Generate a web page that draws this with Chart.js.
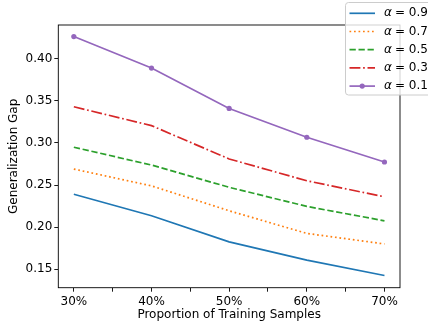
<!DOCTYPE html>
<html>
<head>
<meta charset="utf-8">
<script src="https://cdn.jsdelivr.net/npm/chart.js@4/dist/chart.umd.min.js"></script>
<style>
  html, body { margin: 0; padding: 0; background: #fff; }
</style>
</head>
<body>
<canvas id="gapChart" width="428" height="327"></canvas>
<script>
// proportion of training samples (%)
const proportions = [30, 40, 50, 60, 70];
const alphas = ['0.9', '0.7', '0.5', '0.3', '0.1'];

const gapAlpha09 = [0.239, 0.2135, 0.1825, 0.1607, 0.1425];
const gapAlpha07 = [0.269, 0.249, 0.2194, 0.1925, 0.180];
const gapAlpha05 = [0.2949, 0.2738, 0.2473, 0.2246, 0.2075];
const gapAlpha03 = [0.343, 0.3206, 0.281, 0.2551, 0.236];
const gapAlpha01 = [0.4265, 0.389, 0.341, 0.3068, 0.2774];

const xTicks = [30, 35, 40, 45, 50, 55, 60, 65, 70];
const yTicks = [0.15, 0.20, 0.25, 0.30, 0.35, 0.40];

const FONT = 'DejaVu Sans';
const FS = 12;
const lw = 1.7;

const styles = [
  { color: '#1f77b4', dash: [] },
  { color: '#ff7f0e', dash: [lw, 1.65 * lw] },
  { color: '#2ca02c', dash: [3.7 * lw, 1.6 * lw] },
  { color: '#d62728', dash: [6.4 * lw, 1.6 * lw, lw, 1.6 * lw] },
  { color: '#9467bd', dash: [], marker: true }
];

const series = [gapAlpha09, gapAlpha07, gapAlpha05, gapAlpha03, gapAlpha01];

const datasets = series.map((vals, i) => ({
  label: `α = ${alphas[i]}`,
  data: vals.map((v, j) => ({ x: proportions[j], y: v })),
  borderColor: styles[i].color,
  backgroundColor: styles[i].color,
  borderWidth: lw,
  borderDash: styles[i].dash,
  pointRadius: styles[i].marker ? 2.6 : 0,
  pointBorderWidth: 0,
  tension: 0
}));

// box around plot area + matplotlib-like legend in the top right corner
const framePlugin = {
  id: 'frame',
  afterDatasetsDraw(chart) {
    const { ctx, chartArea: a } = chart;
    ctx.save();
    ctx.strokeStyle = '#000';
    ctx.lineWidth = 0.9;
    ctx.strokeRect(a.left, a.top, a.right - a.left, a.bottom - a.top);
    ctx.restore();
  },
  afterDraw(chart) {
    const ctx = chart.ctx;
    ctx.save();
    ctx.beginPath();
    ctx.roundRect(345.5, 2.5, 100, 92.5, 3);
    ctx.fillStyle = 'rgba(255,255,255,0.8)';
    ctx.fill();
    ctx.strokeStyle = '#cccccc';
    ctx.lineWidth = 1;
    ctx.stroke();
    const rows = [13.3, 31.5, 49.7, 67.9, 86.1];
    chart.data.datasets.forEach((ds, i) => {
      const y = rows[i];
      ctx.beginPath();
      ctx.setLineDash(ds.borderDash);
      ctx.strokeStyle = ds.borderColor;
      ctx.lineWidth = lw;
      ctx.moveTo(349.5, y);
      ctx.lineTo(375, y);
      ctx.stroke();
      ctx.setLineDash([]);
      if (ds.pointRadius > 0) {
        ctx.beginPath();
        ctx.fillStyle = ds.borderColor;
        ctx.arc(362.2, y, ds.pointRadius, 0, Math.PI * 2);
        ctx.fill();
      }
      ctx.fillStyle = '#000';
      ctx.textBaseline = 'middle';
      ctx.textAlign = 'left';
      ctx.font = `italic ${FS}px ${FONT}`;
      ctx.fillText('α', 384, y);
      const w = ctx.measureText('α').width;
      ctx.font = `${FS}px ${FONT}`;
      ctx.fillText(`= ${alphas[i]}`, 384 + w + 3, y);
    });
    ctx.restore();
  }
};

new Chart(document.getElementById('gapChart'), {
  type: 'line',
  data: { datasets },
  options: {
    responsive: false,
    animation: false,
    layout: { padding: { top: 25, right: 28, left: 0, bottom: 0 } },
    plugins: { legend: { display: false }, tooltip: { enabled: false } },
    scales: {
      x: {
        type: 'linear',
        min: 28,
        max: 72,
        afterBuildTicks: scale => { scale.ticks = xTicks.map(v => ({ value: v })); },
        afterFit: scale => { scale.height = 39.3; },
        ticks: {
          color: '#000',
          padding: 3,
          maxRotation: 0,
          autoSkip: false,
          font: { family: FONT, size: FS },
          callback: v => (v % 10 === 0 ? v + '%' : '')
        },
        grid: { drawOnChartArea: false, drawTicks: true, tickLength: 4, color: '#000', lineWidth: 0.9 },
        border: { display: false },
        title: {
          display: true,
          text: 'Proportion of Training Samples',
          color: '#000',
          font: { family: FONT, size: FS },
          padding: { top: 0, bottom: 4.8 }
        }
      },
      y: {
        min: 0.128,
        max: 0.4402,
        afterBuildTicks: scale => { scale.ticks = yTicks.map(v => ({ value: v })); },
        afterFit: scale => { scale.width = 58.3; },
        ticks: {
          color: '#000',
          padding: 2,
          font: { family: FONT, size: FS },
          callback: v => v.toFixed(2)
        },
        grid: { drawOnChartArea: false, drawTicks: true, tickLength: 4, color: '#000', lineWidth: 0.9 },
        border: { display: false },
        title: {
          display: true,
          text: 'Generalization Gap',
          color: '#000',
          font: { family: FONT, size: FS },
          padding: { top: 6.5, bottom: 0 }
        }
      }
    }
  },
  plugins: [framePlugin]
});
</script>
</body>
</html>
